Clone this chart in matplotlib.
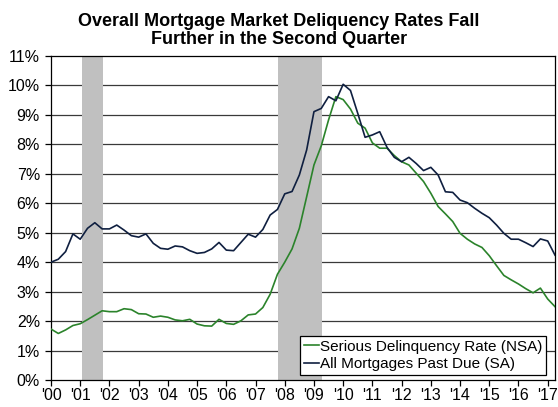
import numpy as np
import matplotlib
matplotlib.use("Agg")
import matplotlib.pyplot as plt
from matplotlib.ticker import FuncFormatter

# quarterly, 2000 Q1 .. 2017 Q2 (percent)
start_year = 2000
serious_nsa = [1.73, 1.58, 1.70, 1.85, 1.91, 2.05, 2.20, 2.35, 2.32, 2.32,
               2.42, 2.39, 2.25, 2.24, 2.13, 2.17, 2.13, 2.04, 2.01, 2.06,
               1.90, 1.84, 1.83, 2.06, 1.92, 1.89, 2.01, 2.21, 2.24, 2.46,
               2.91, 3.59, 4.00, 4.45, 5.15, 6.22, 7.30, 7.95, 8.83, 9.62,
               9.52, 9.20, 8.72, 8.55, 8.05, 7.87, 7.87, 7.62, 7.41, 7.30,
               7.02, 6.74, 6.34, 5.89, 5.64, 5.38, 4.98, 4.78, 4.62, 4.50,
               4.22, 3.88, 3.55, 3.40, 3.26, 3.10, 2.96, 3.12, 2.75, 2.49]
all_past_due = [4.00, 4.10, 4.36, 4.96, 4.78, 5.15, 5.34, 5.13, 5.13, 5.26,
                5.09, 4.90, 4.85, 4.96, 4.64, 4.47, 4.44, 4.55, 4.52, 4.39,
                4.30, 4.33, 4.45, 4.67, 4.41, 4.39, 4.67, 4.95, 4.85, 5.11,
                5.60, 5.79, 6.32, 6.40, 6.96, 7.81, 9.11, 9.22, 9.62, 9.48,
                10.04, 9.83, 9.05, 8.24, 8.32, 8.43, 7.90, 7.56, 7.41, 7.56,
                7.35, 7.11, 7.22, 6.96, 6.39, 6.37, 6.11, 6.02, 5.83, 5.66,
                5.51, 5.26, 4.98, 4.78, 4.78, 4.66, 4.53, 4.79, 4.72, 4.24]
recessions = [(2001.06, 2001.78), (2007.77, 2009.26)]
year_labels = ["'%02d" % y for y in range(0, 18)]

plt.rcParams['font.family'] = ['Liberation Sans', 'DejaVu Sans']

x = start_year + np.arange(len(serious_nsa)) / 4.0

fig = plt.figure(figsize=(5.58, 4.07), dpi=100)
ax = fig.add_axes([51 / 558, 27 / 407, 504 / 558, 324 / 407])

for a, b in recessions:
    ax.axvspan(a, b, color='#c0c0c0', lw=0, zorder=1)

for v in range(1, 11):
    ax.axhline(v, color='#3a3a3a', lw=0.9, zorder=0.5)

ax.plot(x, serious_nsa, color='#2b832b', lw=1.2, zorder=3,
        label='Serious Delinquency Rate (NSA)')
ax.plot(x, all_past_due, color='#0f1f40', lw=1.2, zorder=3,
        label='All Mortgages Past Due (SA)')

ax.set_xlim(2000, 2017.25)
ax.set_ylim(0, 11)
ax.set_yticks(range(0, 12))
ax.yaxis.set_major_formatter(FuncFormatter(lambda v, p: '%d%%' % v))
ax.set_xticks(range(2000, 2018))
ax.set_xticklabels(year_labels)
ax.tick_params(axis='both', labelsize=11.5, direction='out', length=4,
               width=0.9, colors='black')
ax.tick_params(axis='x', pad=2)
ax.tick_params(axis='y', pad=4)
for s in ax.spines.values():
    s.set_linewidth(0.9)
    s.set_color('black')

leg = ax.legend(loc='lower right', bbox_to_anchor=(0.982, 0.015), fontsize=11,
                frameon=True, fancybox=False, edgecolor='black',
                framealpha=1, handlelength=1.0, handletextpad=0.05,
                borderpad=0.25, labelspacing=0.25, borderaxespad=0)
leg.get_frame().set_linewidth(0.9)
leg.set_zorder(5)

fig.text(0.5, 1 - 13 / 407,
         'Overall Mortgage Market Deliquency Rates Fall\nFurther in the Second Quarter',
         ha='center', va='top', fontsize=13, fontweight='bold', linespacing=1.05)

fig.savefig('out.png', dpi=100)
